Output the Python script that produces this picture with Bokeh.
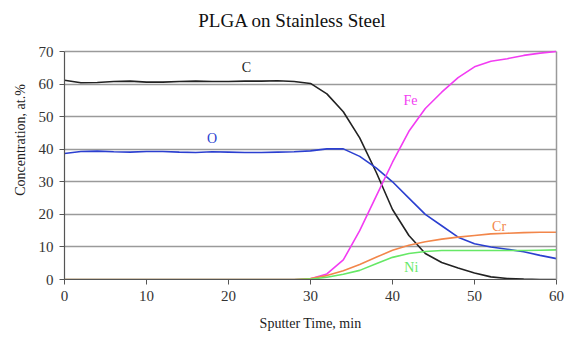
from bokeh.plotting import figure
from bokeh.models import Range1d, FixedTicker, Label, LinearAxis
from bokeh.core.properties import value
from bokeh.embed import file_html
from bokeh.resources import INLINE

time = list(range(0, 62, 2))
carbon = [61.2, 60.4, 60.5, 60.8, 60.9, 60.6, 60.6, 60.8, 60.9, 60.8, 60.8, 60.9, 60.9, 61.0, 60.8,
          60.2, 57.0, 51.5, 43.5, 33.0, 21.5, 13.5, 8.0, 5.2, 3.5, 2.0, 0.8, 0.3, 0.1, 0.0, 0.0]
oxygen = [38.7, 39.3, 39.4, 39.2, 39.1, 39.3, 39.3, 39.1, 39.0, 39.2, 39.1, 39.0, 39.0, 39.1, 39.2,
          39.5, 40.1, 40.1, 37.8, 34.3, 30.0, 25.0, 20.0, 16.5, 13.0, 11.0, 10.0, 9.3, 8.5, 7.4, 6.4]
iron = [0.0] * 15 + [0.2, 1.7, 6.0, 15.0, 25.5, 36.0, 45.5, 52.5, 57.5, 62.0, 65.3, 67.0, 67.8, 68.8, 69.5, 70.0]
chromium = [0.0] * 15 + [0.3, 1.2, 2.7, 4.6, 6.8, 9.0, 10.5, 11.6, 12.4, 13.0, 13.5, 14.0, 14.2, 14.4, 14.5, 14.5]
nickel = [0.0] * 15 + [0.1, 0.7, 1.6, 2.8, 4.8, 6.8, 8.0, 8.6, 8.9, 8.9, 8.9, 8.9, 8.9, 8.9, 9.0, 9.1]

x_ticks = [0, 10, 20, 30, 40, 50, 60]
y_ticks = [0, 10, 20, 30, 40, 50, 60, 70]

series_names = ["C", "O", "Fe", "Cr", "Ni"]
series_values = [carbon, oxygen, iron, chromium, nickel]
series_colors = ["#222222", "#2b3fd0", "#f23cf2", "#f2864a", "#66e866"]
label_x = [22.2, 18.0, 42.2, 53.0, 42.3]
label_y = [65.0, 43.3, 55.0, 16.3, 3.7]
title_text = "PLGA on Stainless Steel"

FONT = "Liberation Serif"
Y_MAX = 70
# extra headroom above 70 keeps the title inside the (unclipped) frame area
Y_TOP = 85.66

p = figure(width=570, height=342, output_backend="svg", toolbar_location=None,
           x_range=Range1d(0, 60), y_range=Range1d(0, Y_TOP),
           min_border_left=64, min_border_right=14, min_border_top=0, min_border_bottom=63)

p.xgrid.visible = False
p.ygrid.ticker = FixedTicker(ticks=y_ticks)
p.ygrid.grid_line_color = "#9a9a9a"
p.ygrid.grid_line_width = 1.5
p.outline_line_color = None
p.background_fill_color = "white"
p.border_fill_color = "white"

for ax in (p.xaxis[0], p.yaxis[0]):
    ax.major_label_text_font = FONT
    ax.major_label_text_font_size = "15px"
    ax.major_label_text_color = "#333333"
    ax.axis_label_text_font = FONT
    ax.axis_label_text_font_size = "14px"
    ax.axis_label_text_font_style = "normal"
    ax.axis_label_text_color = "#222222"
    ax.axis_line_color = "#555555"
    ax.axis_line_width = 1.2
    ax.major_tick_line_color = "#555555"
    ax.major_tick_in = 0
    ax.major_tick_out = 5
    ax.minor_tick_line_color = None

p.yaxis.bounds = (0, Y_MAX)
p.xaxis.ticker = FixedTicker(ticks=x_ticks)
p.yaxis.ticker = FixedTicker(ticks=y_ticks)
p.xaxis.axis_label = "Sputter Time, min"
p.yaxis.axis_label = "Concentration, at.%"
p.xaxis.major_label_standoff = 6
p.xaxis.axis_label_standoff = 12
p.yaxis.major_label_standoff = 6
p.yaxis.axis_label_standoff = 8

right = LinearAxis(bounds=(0, Y_MAX), ticker=FixedTicker(ticks=[]),
                   axis_line_color="#9a9a9a", axis_line_width=1.5,
                   major_tick_line_color=None, minor_tick_line_color=None,
                   major_label_text_font_size="0px", major_label_standoff=0)
p.add_layout(right, "right")

for name, vals, col in zip(series_names, series_values, series_colors):
    p.line(time, vals, line_color=col, line_width=1.6)

for name, lx, ly, col in zip(series_names, label_x, label_y, series_colors):
    p.add_layout(Label(x=lx, y=ly, text=name, text_color=col, text_font=FONT,
                       text_font_size="14px", text_align="center", text_baseline="middle"))

p.add_layout(Label(x=27.8, y=79.5, text=title_text,
                   text_color="#111111", text_font=FONT, text_font_size="19px",
                   text_align="center", text_baseline="middle"))

open("out.html", "w").write(file_html(p, INLINE))
